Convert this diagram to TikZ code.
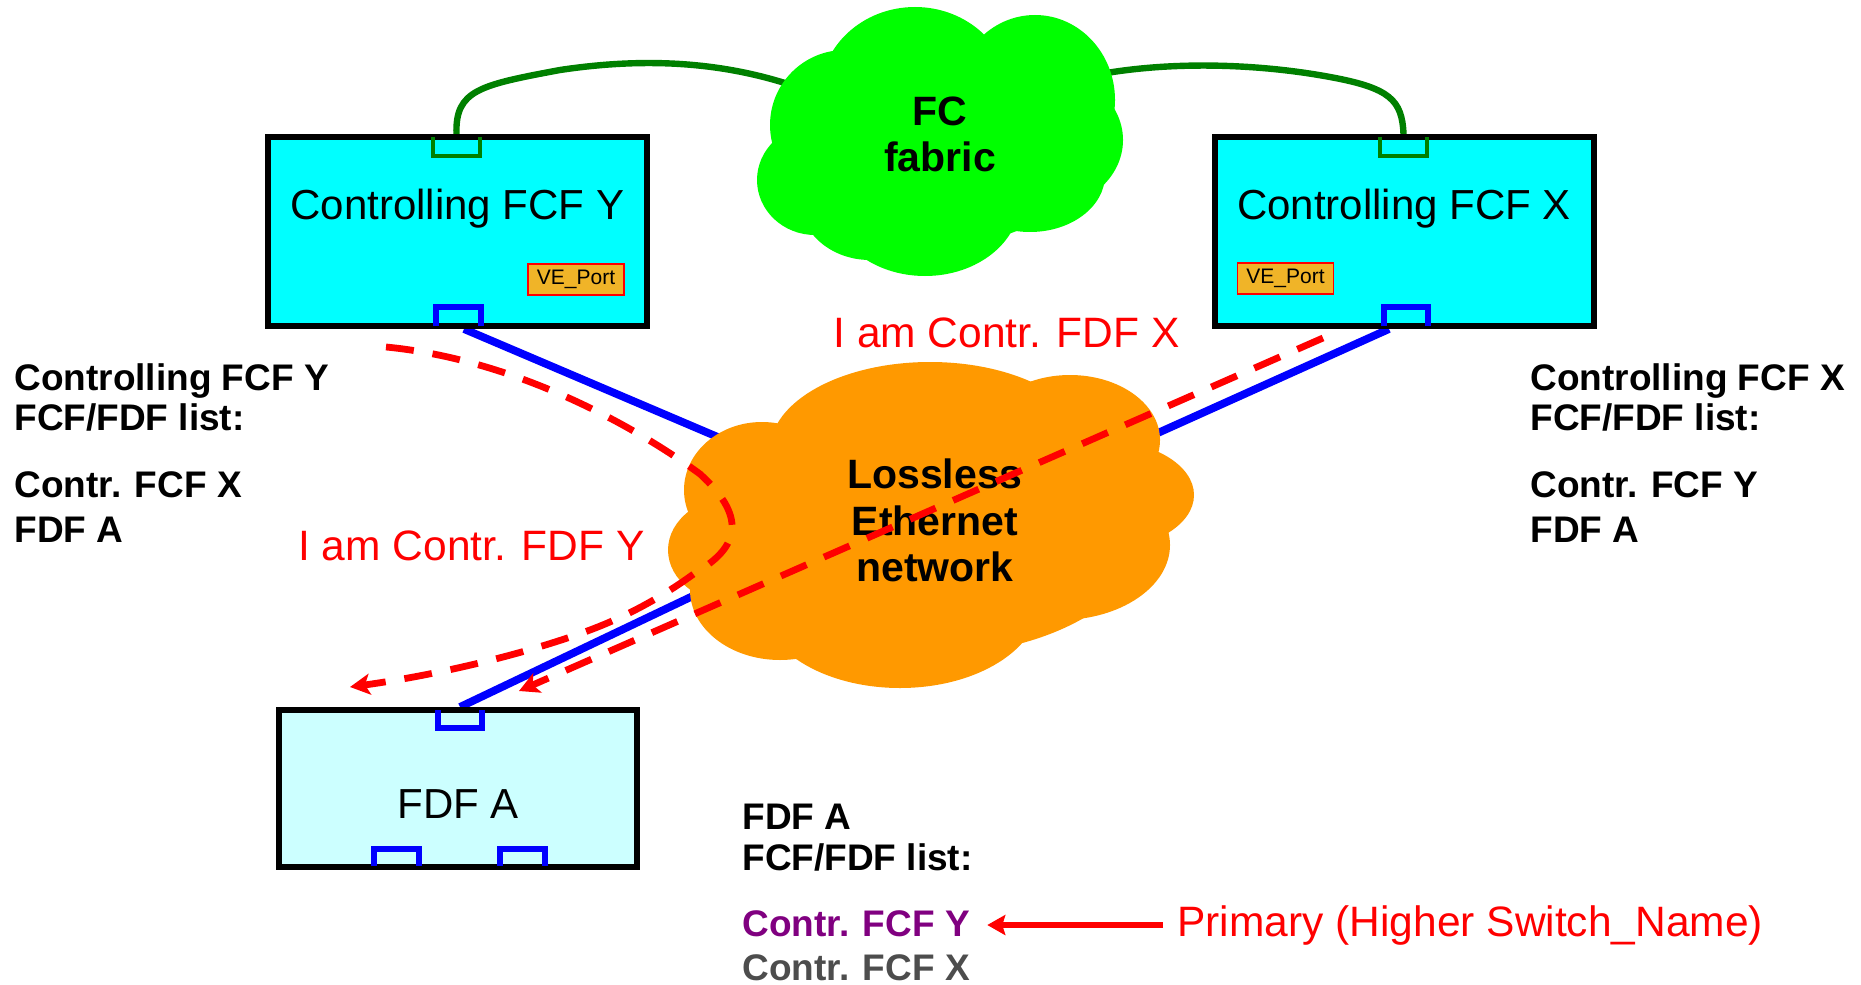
\documentclass[tikz,border=0pt]{standalone}
\usepackage{fontspec}
\setmainfont{Liberation Sans}
\usetikzlibrary{arrows.meta}

\definecolor{fcgreen}{RGB}{0,255,0}
\definecolor{linkgreen}{RGB}{0,128,0}
\definecolor{ethorange}{RGB}{255,153,0}
\definecolor{fcfcyan}{RGB}{0,255,255}
\definecolor{fdfcyan}{RGB}{204,255,255}
\definecolor{portgold}{RGB}{240,180,40}
\definecolor{listpurple}{RGB}{128,0,128}
\definecolor{listgray}{RGB}{77,77,77}
\definecolor{linkblue}{RGB}{0,0,255}

\begin{document}
\begin{tikzpicture}[x=0.5pt,y=-0.5pt,
  fcfbox/.style={draw=black,line width=2.8pt,fill=fcfcyan,minimum width=189.5pt,minimum height=94.5pt,inner sep=0pt},
  fdfbox/.style={draw=black,line width=2.8pt,fill=fdfcyan,minimum width=179pt,minimum height=78.5pt,inner sep=0pt},
  boxlabel/.style={anchor=base,inner sep=0pt,font=\fontsize{21}{25}\selectfont},
  veport/.style={draw=red,line width=0.7pt,fill=portgold,minimum width=48pt,minimum height=15.5pt,inner sep=0pt,font=\fontsize{10.5}{12}\selectfont},
  listtext/.style={anchor=base west,inner sep=0pt,font=\fontsize{18.5}{22}\selectfont\bfseries},
  cloudlabel/.style={anchor=base,inner sep=0pt,font=\fontsize{20.5}{24}\selectfont\bfseries},
  msglabel/.style={anchor=base west,inner sep=0pt,text=red,font=\fontsize{21.25}{25}\selectfont},
  fclink/.style={draw=linkgreen,line width=3.2pt},
  ethlink/.style={draw=linkblue,line width=3.9pt},
  fcport/.style={draw=linkgreen,line width=2.2pt},
  ethport/.style={draw=linkblue,line width=2.6pt},
  ctrlmsg/.style={draw=red,line width=3.4pt,dash pattern=on 14pt off 9.5pt,-{Stealth[length=10pt,width=10.5pt,inset=2.5pt]}},
  primarrow/.style={draw=red,line width=3pt,-{Stealth[length=9pt,width=10pt,inset=1.5pt]}}
]
\useasboundingbox (0,0) rectangle (1861,984);

% attachment points of the links
\coordinate (ygreen) at (456.5,134);
\coordinate (xgreen) at (1403.5,134);
\coordinate (yblue) at (464,329);
\coordinate (xblue) at (1389,329);
\coordinate (ablue) at (460,707);
\coordinate (fcinl) at (800,88);
\coordinate (fcinr) at (1090,76);
\coordinate (ethiny) at (760,455);
\coordinate (ethinx) at (1100,459);
\coordinate (ethina) at (760,564);

% FC links to the fabric
\draw[fclink] (ygreen) .. controls (455,90) and (480,85) .. (560,70)
  .. controls (640,58) and (720,60) .. (fcinl);
\draw[fclink] (xgreen) .. controls (1402,100) and (1390,88) .. (1330,77)
  .. controls (1260,64) and (1170,60) .. (fcinr);

% Ethernet links
\draw[ethlink] (yblue) -- (ethiny);
\draw[ethlink] (xblue) -- (ethinx);
\draw[ethlink] (ablue) -- (ethina);

% FC fabric cloud
\begin{scope}[fill=fcgreen]
  \fill (845,125) ellipse [x radius=75, y radius=75];
  \fill (815,180) ellipse [x radius=58, y radius=55];
  \fill (870,200) ellipse [x radius=70, y radius=60];
  \fill (925,200) ellipse [x radius=95, y radius=76];
  \fill (915,95) ellipse [x radius=95, y radius=88];
  \fill (1035,100) ellipse [x radius=80, y radius=85];
  \fill (1040,140) ellipse [x radius=83, y radius=70];
  \fill (1030,175) ellipse [x radius=75, y radius=57];
  \fill (940,145) ellipse [x radius=150, y radius=100];
\end{scope}

% lossless Ethernet cloud
\begin{scope}[fill=ethorange]
  \fill (762,490) ellipse [x radius=78, y radius=68];
  \fill (930,450) ellipse [x radius=160, y radius=88];
  \fill (1070,440) ellipse [x radius=90, y radius=65];
  \fill (1100,495) ellipse [x radius=94, y radius=55];
  \fill (1060,545) ellipse [x radius=110, y radius=75];
  \fill (900,600) ellipse [x radius=140, y radius=88];
  \fill (780,590) ellipse [x radius=90, y radius=70];
  \fill (740,550) ellipse [x radius=72, y radius=55];
  \fill (930,525) ellipse [x radius=220, y radius=130];
\end{scope}

\node[cloudlabel] (fc1) at (940,126) {FC};
\node[cloudlabel] (fc2) at (940,172) {fabric};
\node[cloudlabel] (eth1) at (935,488) {Lossless};
\node[cloudlabel] (eth2) at (935,535) {Ethernet};
\node[cloudlabel] (eth3) at (935,581) {network};

% switches
\node[fcfbox] (fcfy) at (457.5,231.5) {};
\node[fcfbox] (fcfx) at (1404.5,231.5) {};
\node[fdfbox] (fdfa) at (458,788.5) {};

\node[boxlabel] (fcfyl) at (457.5,220) {Controlling FCF Y};
\node[boxlabel] (fcfxl) at (1404,220) {Controlling FCF X};
\node[boxlabel] (fdfal) at (458,818) {FDF A};

\node[veport] (vey) at (576,279.5) {VE\_Port};
\node[veport] (vex) at (1285.5,278.5) {VE\_Port};

% ports
\draw[fcport] (433,137) -- (433,156) -- (480,156) -- (480,137);
\draw[fcport] (1380,137) -- (1380,156) -- (1427,156) -- (1427,137);
\draw[ethport] (436,326) -- (436,307) -- (481,307) -- (481,326);
\draw[ethport] (1384,326) -- (1384,307) -- (1428,307) -- (1428,326);
\draw[ethport] (438,710) -- (438,728) -- (482,728) -- (482,710);
\draw[ethport] (374,866) -- (374,849) -- (419,849) -- (419,866);
\draw[ethport] (500,866) -- (500,849) -- (545,849) -- (545,866);

% controller announcements
\coordinate (ystart) at (386,347);
\coordinate (ytip) at (350,687);
\coordinate (xstart) at (1323,338);
\coordinate (xtip) at (519,691);
\draw[ctrlmsg] (ystart) .. controls (520,360) and (640,430) .. (700,474)
  .. controls (745,515) and (742,546) .. (695,573)
  .. controls (665,595) and (630,615) .. (590,630)
  .. controls (520,656) and (430,676) .. (ytip);
\draw[ctrlmsg] (xstart) -- (xtip);

\node[msglabel] (msgx) at (833,347) {I am Contr. FDF X};
\node[msglabel] (msgy) at (298,560) {I am Contr. FDF Y};

% FCF/FDF lists
\node[listtext] (ly1) at (14,390) {Controlling FCF Y};
\node[listtext] (ly2) at (14,430) {FCF/FDF list:};
\node[listtext] (ly3) at (14,497) {Contr. FCF X};
\node[listtext] (ly4) at (14,542) {FDF A};

\node[listtext] (lx1) at (1530,390) {Controlling FCF X};
\node[listtext] (lx2) at (1530,430) {FCF/FDF list:};
\node[listtext] (lx3) at (1530,497) {Contr. FCF Y};
\node[listtext] (lx4) at (1530,542) {FDF A};

\node[listtext] (la1) at (742,829) {FDF A};
\node[listtext] (la2) at (742,870) {FCF/FDF list:};
\node[listtext,text=listpurple] (la3) at (742,936) {Contr. FCF Y};
\node[listtext,text=listgray] (la4) at (742,980) {Contr. FCF X};

\node[msglabel] (prim) at (1177,936) {Primary (Higher Switch\_Name)};
\draw[primarrow,shorten <=7pt,shorten >=8.5pt] (prim.west) -- (prim.west -| la3.east);
\end{tikzpicture}
\end{document}
